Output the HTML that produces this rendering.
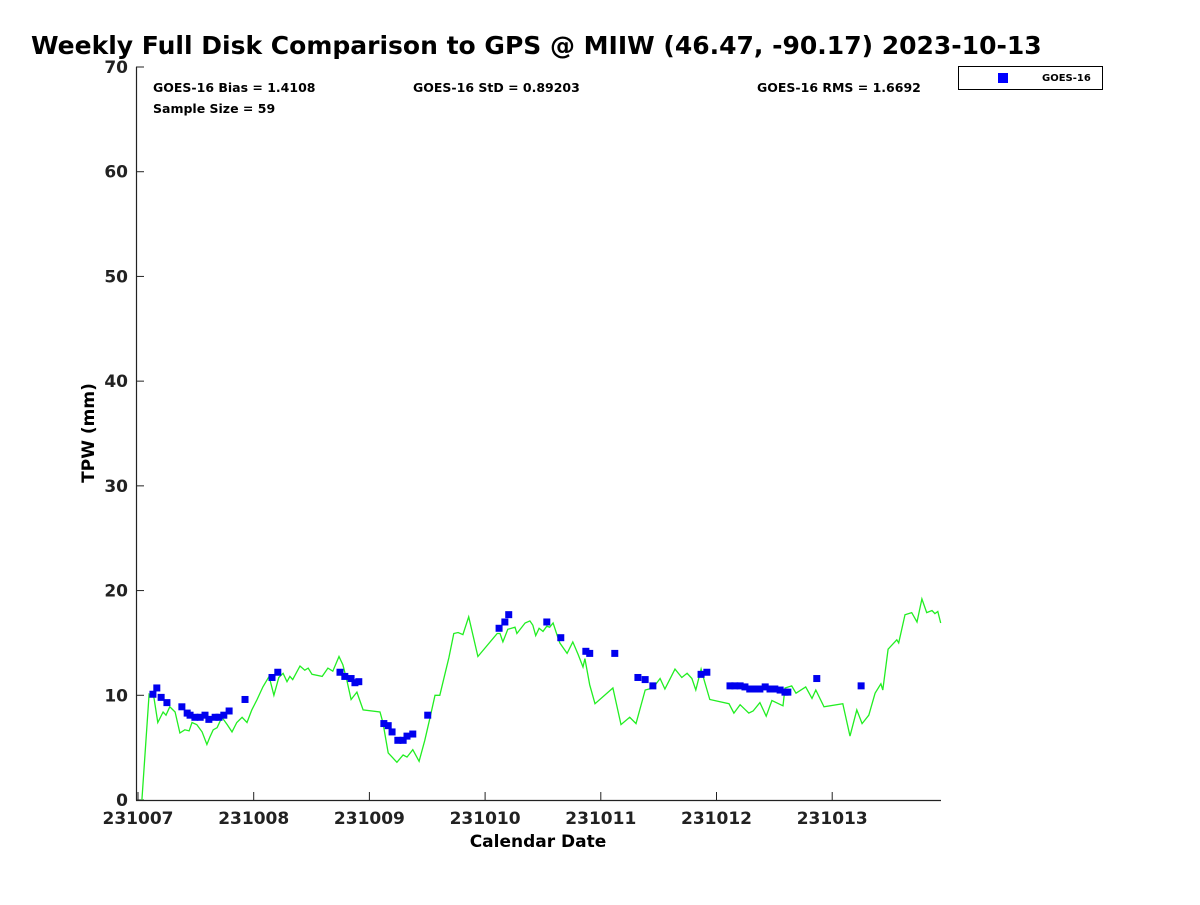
<!DOCTYPE html>
<html><head><meta charset="utf-8"><style>
body{margin:0;background:#fff;font-family:"Liberation Sans","DejaVu Sans",sans-serif}
svg text{font-family:"DejaVu Sans","Liberation Sans",sans-serif;font-weight:bold}
</style></head><body>
<svg id="chart" width="1200" height="900" xmlns="http://www.w3.org/2000/svg">
<text x="31" y="54" font-size="25" fill="#000">Weekly Full Disk Comparison to GPS @ MIIW (46.47, -90.17) 2023-10-13</text>
<g id="axes"></g>
<g id="series"></g>
<text x="153" y="92" font-size="12.5">GOES-16 Bias = 1.4108</text>
<text x="153" y="113" font-size="12.5">Sample Size = 59</text>
<text x="413" y="92" font-size="12.5">GOES-16 StD = 0.89203</text>
<text x="757" y="92" font-size="12.5">GOES-16 RMS = 1.6692</text>
<g>
<rect x="958.5" y="66.5" width="144" height="23" fill="#fff" stroke="#000" stroke-width="1"/>
<rect x="998" y="73" width="10" height="10" fill="#0000ff"/>
<text x="1042" y="81" font-size="10">GOES-16</text>
</g>
<text x="538" y="847" font-size="17" text-anchor="middle">Calendar Date</text>
<text x="0" y="0" font-size="17" text-anchor="middle" transform="translate(94,433) rotate(-90)">TPW (mm)</text>
</svg>
<script>
const xTickLabels=["231007","231008","231009","231010","231011","231012","231013"];
const xTickHours=[0,24,48,72,96,120,144];
const yTicks=[0,10,20,30,40,50,60,70];
const gpsHours=[0.8,2.3,3.3,4.1,5.2,5.8,6.6,7.7,8.7,9.7,10.6,11.2,12.2,13.3,14.3,14.9,15.6,16.4,17.4,18.5,19.5,20.5,21.6,22.6,23.6,24.7,25.9,27.2,28.2,29.2,30.1,30.9,31.5,32.1,33.6,34.6,35.3,36.1,38.2,39.4,40.4,41.7,42.5,43.3,44.2,45.4,46.7,50.2,50.8,51.9,52.7,53.7,55.0,55.8,57.0,58.3,59.5,60.6,61.6,62.6,63.7,64.5,65.5,66.4,67.4,68.6,70.5,74.5,75.1,75.7,76.7,78.2,78.6,80.3,81.3,81.9,82.5,83.2,84.0,84.8,85.4,86.1,86.9,87.5,89.0,90.2,91.3,92.3,92.7,93.7,94.8,98.5,100.2,102.0,103.3,105.2,106.8,108.3,109.3,110.3,111.4,112.8,113.9,114.9,115.7,116.8,117.4,118.6,122.6,123.6,124.9,126.7,127.6,129.0,130.3,131.5,133.8,134.2,135.6,136.5,138.5,139.8,140.6,142.3,146.2,147.7,149.1,150.2,151.6,152.9,154.1,154.5,155.6,157.4,157.8,159.1,160.5,161.6,162.6,163.6,164.7,165.3,165.9,166.5];
const gpsTpw=[0,10.1,9.8,7.4,8.4,8.1,8.9,8.4,6.4,6.7,6.6,7.4,7.2,6.5,5.3,6.0,6.7,6.9,7.9,7.2,6.5,7.4,7.9,7.4,8.6,9.6,10.8,11.8,10.0,11.7,12.1,11.3,11.8,11.5,12.8,12.4,12.6,12.0,11.8,12.6,12.3,13.7,12.9,11.5,9.6,10.3,8.6,8.4,7.4,4.5,4.1,3.6,4.3,4.1,4.8,3.7,5.7,7.9,10.0,10.0,12.1,13.6,15.9,16.0,15.8,17.5,13.7,15.9,15.9,15.1,16.3,16.5,15.9,16.9,17.1,16.7,15.7,16.4,16.1,16.6,16.5,16.9,15.8,15.0,14.0,15.1,13.9,12.7,13.5,11.0,9.2,10.7,7.2,7.9,7.3,10.5,10.7,11.6,10.6,11.5,12.5,11.7,12.1,11.6,10.5,12.5,11.5,9.6,9.2,8.3,9.1,8.3,8.5,9.3,8.0,9.5,9.0,10.7,10.9,10.2,10.8,9.7,10.5,8.9,9.2,6.1,8.6,7.3,8.1,10.2,11.1,10.5,14.4,15.3,15.0,17.7,17.9,17.0,19.2,17.9,18.1,17.8,18.0,16.9];
const goesHours=[3.1,3.9,4.8,6.0,9.1,10.2,10.8,11.8,12.9,13.9,14.7,16.0,16.8,17.8,18.9,22.2,27.8,29.0,41.9,42.9,44.2,45.0,45.8,51.0,51.9,52.7,53.9,55.0,55.8,57.0,60.1,74.9,76.1,76.9,84.8,87.7,92.9,93.7,98.9,103.7,105.2,106.8,116.8,118.0,122.8,123.8,124.9,125.9,126.9,128.0,129.0,130.1,131.1,132.1,133.2,134.2,134.8,140.8,150.0];
const goesTpw=[10.1,10.7,9.8,9.3,8.9,8.3,8.1,7.9,7.9,8.1,7.7,7.9,7.9,8.1,8.5,9.6,11.7,12.2,12.2,11.8,11.6,11.2,11.3,7.3,7.1,6.5,5.7,5.7,6.1,6.3,8.1,16.4,17.0,17.7,17.0,15.5,14.2,14.0,14.0,11.7,11.5,10.9,12.0,12.2,10.9,10.9,10.9,10.8,10.6,10.6,10.6,10.8,10.6,10.6,10.5,10.3,10.3,11.6,10.9];
const NS="http://www.w3.org/2000/svg";
const X0=136,X1=941,Y0=800,Y1=67;
const xs=h=>138+h*115.7/24;
const ys=v=>Y0-(v/70)*(Y0-Y1);
function mk(tag,attrs,parent){const e=document.createElementNS(NS,tag);for(const k in attrs)e.setAttribute(k,attrs[k]);parent.appendChild(e);return e;}
const axes=document.getElementById('axes'),series=document.getElementById('series');
const yl=mk('line',{x1:X0+.5,y1:Y1,x2:X0+.5,y2:Y0+.5,stroke:'#222','stroke-width':1.2},axes);


const xl=mk('line',{x1:X0,y1:Y0+.5,x2:X1,y2:Y0+.5,stroke:'#222','stroke-width':1.2},axes);


yTicks.forEach(v=>{const y=ys(v);
mk('line',{x1:X0,y1:y,x2:X0+8,y2:y,stroke:'#222'},axes);
const t=mk('text',{x:X0-8,y:y+6,'font-size':17,'text-anchor':'end',fill:'#222'},axes);t.textContent=v;

});
xTickHours.forEach((h,i)=>{const x=xs(h);
mk('line',{x1:x,y1:Y0,x2:x,y2:Y0-8,stroke:'#222'},axes);
const t=mk('text',{x:x,y:Y0+24,'font-size':17,'text-anchor':'middle',fill:'#222'},axes);t.textContent=xTickLabels[i];

});
const line=mk('polyline',{points:gpsHours.map((h,i)=>xs(h).toFixed(1)+','+ys(gpsTpw[i]).toFixed(1)).join(' '),fill:'none',stroke:'#22ee22','stroke-width':1.3},series);


goesHours.forEach((h,i)=>{const r=mk('rect',{x:xs(h)-3.5,y:ys(goesTpw[i])-3.5,width:7,height:7,fill:'#0000ee'},series);

});
</script>
</body></html>
